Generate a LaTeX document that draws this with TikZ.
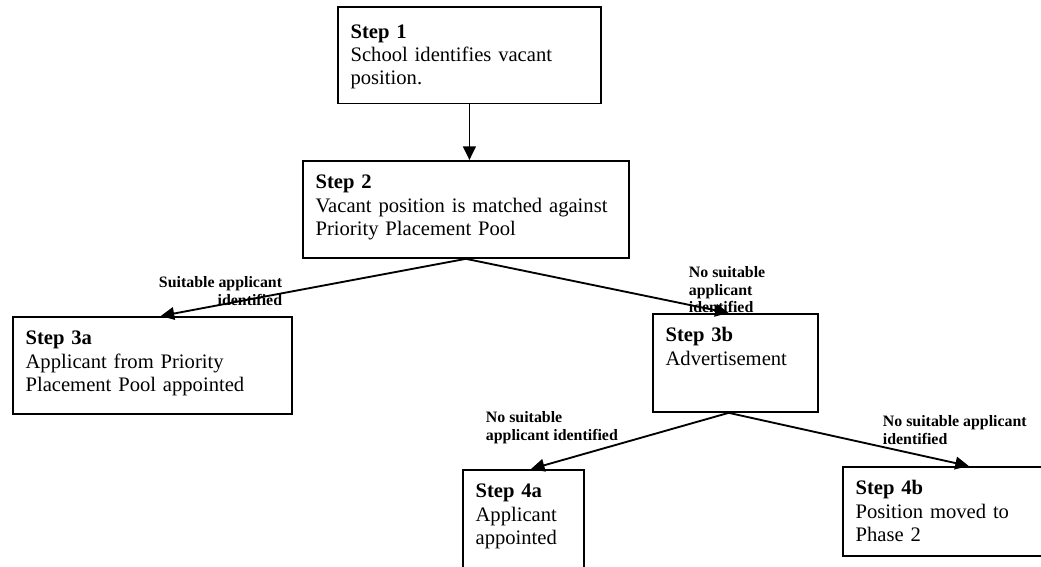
\documentclass[tikz,border=0pt]{standalone}
\usepackage{fontspec}
\setmainfont{Liberation Serif}
\usetikzlibrary{arrows.meta}

\begin{document}
\begin{tikzpicture}[x=0.592pt,y=-0.592pt,>={Triangle[length=8pt,width=7.5pt]},
  line width=1.1pt,
  stage node/.style={draw,anchor=north west,align=left,inner xsep=7.5pt,inner ysep=7.5pt,
    text height=9pt,font=\fontsize{12.2}{13.8}\selectfont},
  cond label/.style={inner sep=0pt,font=\fontsize{9.4}{10.35}\selectfont\bfseries}]

  \clip (0,0) rectangle (1041,566);

  \node[stage node,text width=140.7pt,text height=11pt,text depth=31.2pt] (s1) at (337,6)
    {\textbf{Step 1}\\School identifies vacant\\position.};
  \node[stage node,text width=178pt,text depth=33.4pt] (s2) at (302,160)
    {\textbf{Step 2}\\Vacant position is matched against\\Priority Placement Pool};
  \node[stage node,text width=150pt,text depth=33.4pt] (s3a) at (12,316)
    {\textbf{Step 3a}\\Applicant from Priority\\Placement Pool appointed};
  \node[stage node,text width=82.7pt,text depth=34pt] (s3b) at (652,313)
    {\textbf{Step 3b}\\Advertisement};
  \node[stage node,text width=56.6pt,text depth=53.5pt] (s4a) at (462,469)
    {\textbf{Step 4a}\\Applicant\\appointed};
  \node[stage node,text width=112pt,text depth=28.7pt] (s4b) at (842,466)
    {\textbf{Step 4b}\\Position moved to\\Phase 2};

  \node[cond label,anchor=north east,align=right] (l3a) at (283,276)
    {Suitable applicant\\identified};
  \node[cond label,anchor=north west,align=left] (l3b) at (688,266)
    {No suitable\\applicant\\identified};
  \node[cond label,anchor=north west,align=left] (l4a) at (485,411)
    {No suitable\\applicant identified};
  \node[cond label,anchor=north west,align=left] (l4b) at (882,415)
    {No suitable applicant\\identified};

  \path[->] (s1.south) edge (s1.south |- s2.north)
            (s2.south) edge ([xshift=5pt]s3a.north)
                       edge ([xshift=-4pt]s3b.north)
            ([xshift=-4pt]s3b.south) edge ([xshift=4.5pt]s4a.north)
                                     edge ([xshift=11pt]s4b.north);

\end{tikzpicture}
\end{document}
